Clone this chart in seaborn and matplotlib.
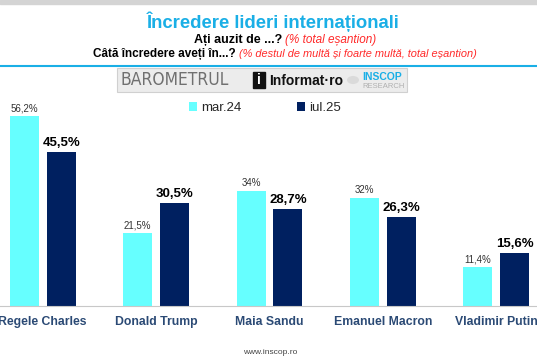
import pandas as pd
import seaborn as sns
import matplotlib.pyplot as plt
from matplotlib.patches import Rectangle, Circle
from matplotlib.ticker import FixedLocator

leaders = ["Regele Charles", "Donald Trump", "Maia Sandu", "Emanuel Macron", "Vladimir Putin"]
periods = ["mar.24", "iul.25"]
mar24 = [56.2, 21.5, 34, 32, 11.4]
iul25 = [45.5, 30.5, 28.7, 26.3, 15.6]

CYAN = "#66FFFF"
NAVY = "#002060"
TITLE_BLUE = "#1AAFE6"
LABEL_BLUE = "#2B4A75"
RED = "#FF2A2A"


def pct(v):
    s = f"{v:.1f}".replace(".", ",")
    if s.endswith(",0"):
        s = s[:-2]
    return s + "%"


def two_part(fig, xc, y, bold_txt, red_txt, size_a, size_b):
    # centre a bold black + italic red line as one unit around pixel xc
    r = fig.canvas.get_renderer()
    a = fig.text(0, y, bold_txt, va="center", fontsize=size_a, fontweight="bold", color="black")
    b = fig.text(0, y, red_txt, va="center", fontsize=size_b, style="italic", color=RED)
    wa = a.get_window_extent(r).width
    wb = b.get_window_extent(r).width
    W = fig.bbox.width
    x0 = xc - (wa + wb) / 2
    a.set_x(x0 / W)
    b.set_x((x0 + wa) / W)


df = pd.DataFrame({
    "leader": leaders * 2,
    "period": [periods[0]] * len(leaders) + [periods[1]] * len(leaders),
    "value": mar24 + iul25,
})

sns.set_style("white")
plt.rcParams["font.family"] = ["Liberation Sans", "DejaVu Sans"]

fig = plt.figure(figsize=(5.37, 3.6), dpi=100)
ax = fig.add_axes([-14 / 537, 54 / 360, 567 / 537, 203 / 360])

sns.barplot(data=df, x="leader", y="value", hue="period", order=leaders,
            hue_order=periods, palette=[CYAN, NAVY], width=0.652, gap=0.215,
            saturation=1, edgecolor="none", legend=True, ax=ax)

ax.set_ylim(0, 60)
ax.set_xlim(-0.5, len(leaders) - 0.5)
ax.set_xlabel("")
ax.set_ylabel("")
ax.set_yticks([])
for s in ["top", "left", "right"]:
    ax.spines[s].set_visible(False)
ax.spines["bottom"].set_color("#C8C8C8")
ax.spines["bottom"].set_linewidth(0.8)
ax.tick_params(axis="x", which="major", length=0, pad=7)
ax.xaxis.set_minor_locator(FixedLocator([i + 0.5 for i in range(len(leaders) - 1)]))
ax.tick_params(axis="x", which="minor", length=3, color="#C8C8C8", width=0.8)
for lbl in ax.get_xticklabels():
    lbl.set_fontweight("bold")
    lbl.set_color(LABEL_BLUE)
    lbl.set_fontsize(8.8)

# value labels
for cont, vals, bold in zip(ax.containers, [mar24, iul25], [False, True]):
    ax.bar_label(cont, labels=[pct(v) for v in vals], padding=2,
                 fontsize=9.5 if bold else 7,
                 fontweight="bold" if bold else "normal",
                 color="black" if bold else "#333333")

# legend
handles, labels = ax.get_legend_handles_labels()
ax.get_legend().remove()
fig.legend(handles, labels, loc="center", bbox_to_anchor=(265 / 537, 1 - 108 / 360),
           ncol=2, frameon=False, fontsize=9.5, handlelength=0.6, handleheight=0.6,
           handletextpad=0.3, columnspacing=4.2)

# header
fig.patches.append(Rectangle((0, 1 - 4 / 360), 1, 4 / 360, transform=fig.transFigure,
                             color="#D4D4D4", zorder=0))
fig.text(273 / 537, 1 - 22 / 360, "Încredere lideri internaționali", ha="center", va="center",
         fontsize=13.3, fontweight="bold", color=TITLE_BLUE)
two_part(fig, 285, 1 - 40 / 360, "Ați auzit de ...? ", "(% total eșantion)", 9, 8.5)
two_part(fig, 285, 1 - 54 / 360, "Câtă încredere aveți în...? ",
         "(% destul de multă și foarte multă, total eșantion)", 8.5, 7.9)
fig.add_artist(plt.Line2D([0, 1], [1 - 66 / 360, 1 - 66 / 360], transform=fig.transFigure,
                          color=TITLE_BLUE, lw=1.5))

# logo banner
fig.patches.append(Rectangle((117 / 537, 1 - 92 / 360), 290 / 537, 24 / 360,
                             transform=fig.transFigure, facecolor="#ECECEC",
                             edgecolor="#D0D0D0", lw=0.8, zorder=0))
fig.text(121 / 537, 1 - 80 / 360, "BAROMETRUL", ha="left", va="center", fontsize=12.5,
         color="#707070", family="DejaVu Sans", fontweight="light", stretch="condensed")
fig.patches.append(Rectangle((253 / 537, 1 - 88 / 360), 12 / 537, 16 / 360,
                             transform=fig.transFigure, color="#111111", zorder=1))
fig.text(259 / 537, 1 - 80 / 360, "i", ha="center", va="center", fontsize=10,
         fontweight="bold", color="white")
fig.text(269 / 537, 1 - 81 / 360, "Informat·ro", ha="left", va="center", fontsize=10,
         fontweight="bold", color="#111111")
fig.patches.append(Circle((353 / 537, 1 - 80 / 360), 6 / 537, transform=fig.transFigure,
                          facecolor="#DADADA", edgecolor="none", zorder=1))
fig.text(362 / 537, 1 - 77 / 360, "INSCOP", ha="left", va="center", fontsize=7.5,
         fontweight="bold", color="#1AAFE6")
fig.text(362 / 537, 1 - 86 / 360, "RESEARCH", ha="left", va="center", fontsize=5.5,
         color="#B0B0B0")

fig.text(270 / 537, 1 - 352 / 360, "www.inscop.ro", ha="center", va="center", fontsize=6,
         color="#444444")

fig.savefig("out.png", dpi=100)
